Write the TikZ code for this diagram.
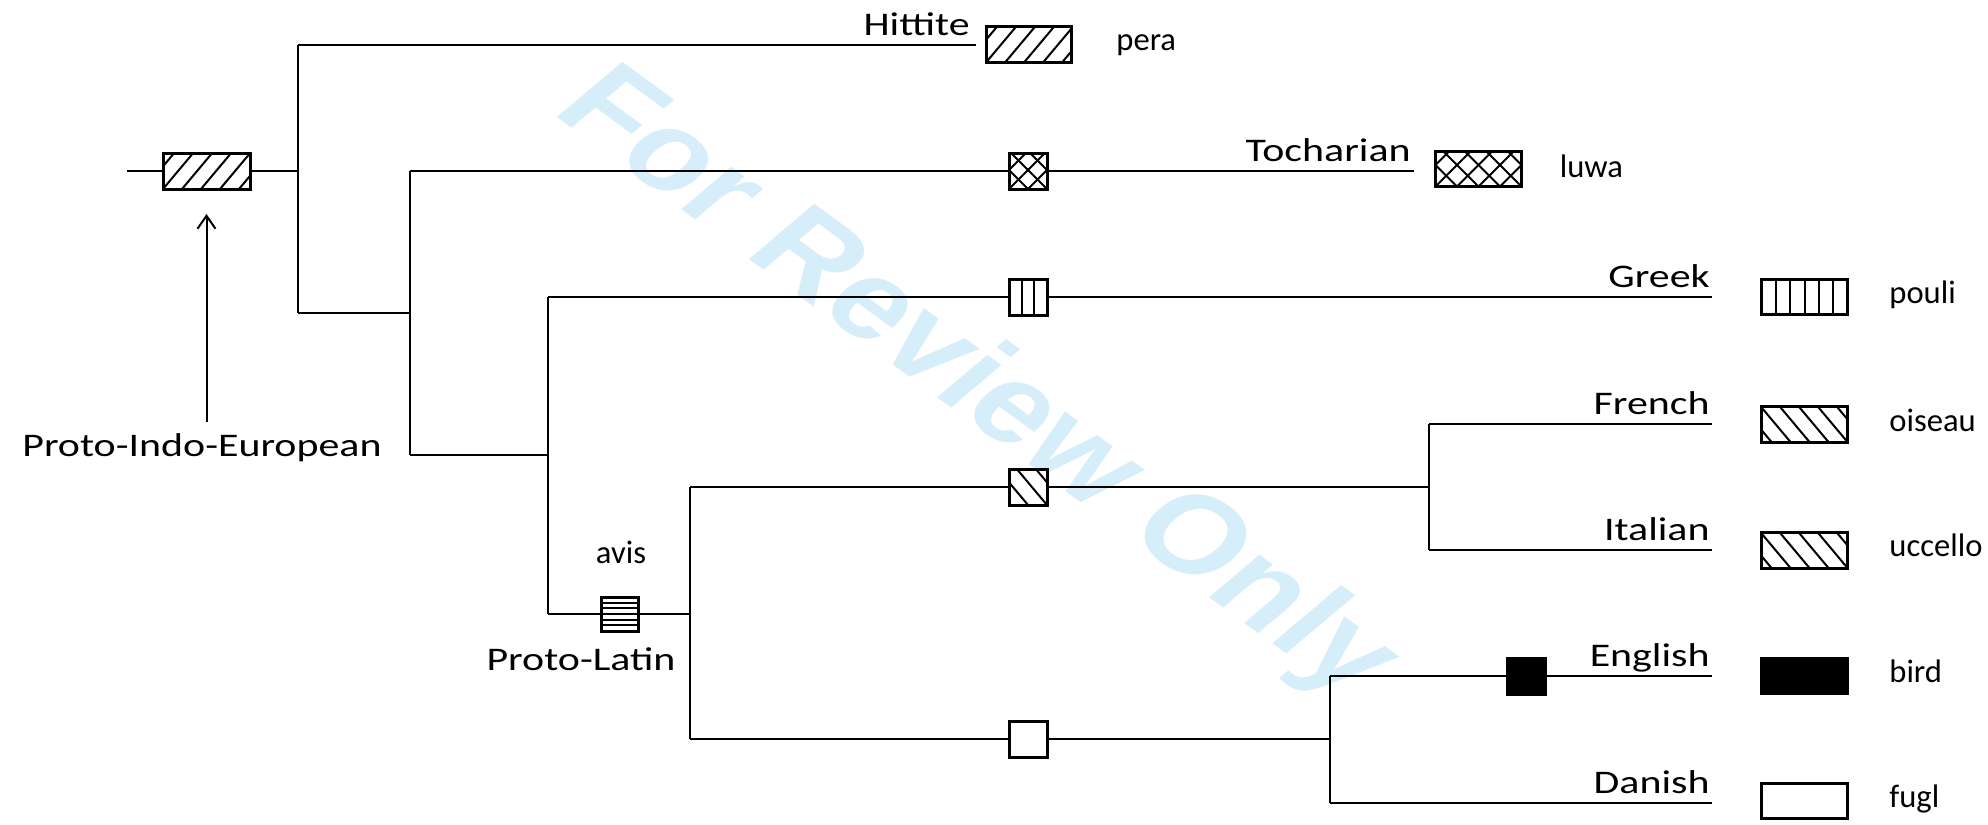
\documentclass[tikz,border=0pt]{standalone}
\usepackage{fontspec}
\usetikzlibrary{arrows.meta}
\newfontfamily\labfont[FakeStretch=1.27]{Carlito}
\newfontfamily\wordfont{Carlito}
\newfontfamily\wmfont{Liberation Sans}
\definecolor{wmblue}{RGB}{214,238,250}
\tikzset{
  tree/.style={line width=1pt},
  hl/.style={line width=1pt},
  box/.style={draw, line width=1.5pt, fill=white, inner sep=0pt, outer sep=0pt},
  lab/.style={font=\labfont\fontsize{16.5}{18}\selectfont, inner sep=0pt},
  word/.style={font=\wordfont\fontsize{16.3}{18}\selectfont, inner sep=0pt},
  hatchNE/.style={path picture={\foreach \k in {-4,...,12}{\draw[hl] ([xshift={(\k)*(#1)}]path picture bounding box.south west) -- ++(50:40pt);}}},
  hatchNW/.style={path picture={\foreach \k in {-4,...,12}{\draw[hl] ([xshift={(\k)*(-#1)}]path picture bounding box.south east) -- ++(130:40pt);}}},
  crossh/.style={path picture={\foreach \k in {-4,...,12}{\draw[hl] ([xshift={(\k)*(#1)}]path picture bounding box.south west) -- ++(45:40pt);
      \draw[hl] ([xshift={(\k)*(-#1)}]path picture bounding box.south east) -- ++(135:40pt);}}},
  vlines/.style 2 args={path picture={\foreach \k in {1,...,#1}{\draw[hl] ([xshift={\k*(#2)}]path picture bounding box.south west) -- ([xshift={\k*(#2)}]path picture bounding box.north west);}}},
  hlines/.style 2 args={path picture={\foreach \k in {1,...,#1}{\draw[line width=0.9pt] ([yshift={\k*(#2)}]path picture bounding box.south west) -- ([yshift={\k*(#2)}]path picture bounding box.south east);}}},
  small/.style={box, minimum width=19pt, minimum height=18pt},
  big/.style={box, minimum width=43pt, minimum height=17.5pt},
}
\begin{document}
\begin{tikzpicture}[x=0.5pt, y=-0.5pt]
\useasboundingbox (0,0) rectangle (1988,825);
% watermark
\begin{scope}[xscale=1.27]
\node[transform shape, rotate=-43, text=wmblue, inner sep=0pt,
      font=\wmfont\bfseries\fontsize{55}{60}\selectfont] (wm) at (767.7,386) {For Review Only};
\end{scope}

% root
\coordinate (root0) at (127,171);
\node[box, minimum width=43.5pt, minimum height=18pt, hatchNE=9.5pt] (piebox) at (206.5,171) {};
\coordinate (j1) at (298,171);
\coordinate (j1t) at (298,44.5);
\coordinate (j1b) at (298,313);
\draw[tree] (root0) -- (piebox.west);
\draw[tree] (piebox.east) -- (j1);
\draw[tree] (j1t) -- (j1b);

% Hittite
\coordinate (hitend) at (976,44.5);
\draw[tree] (j1t) -- (hitend);
\node[big, minimum width=42.5pt, minimum height=18pt, hatchNE=9.5pt] (hitbox) at (1028.5,44.5) {};
\node[lab, anchor=base east] (hitlab) at (970,35) {Hittite};
\node[word, anchor=base west] (pera) at (1116,50.5) {pera};

% level 2
\coordinate (j2) at (409.5,313);
\coordinate (j2t) at (409.5,171);
\coordinate (j2b) at (409.5,455);
\draw[tree] (j1b) -- (j2);
\draw[tree] (j2t) -- (j2b);

% Tocharian
\node[small, crossh=9.5pt] (tochsmall) at (1028,171) {};
\coordinate (tochend) at (1414,171);
\draw[tree] (j2t) -- (tochsmall.west);
\draw[tree] (tochsmall.east) -- (tochend);
\node[lab, anchor=base east] (tochlab) at (1411,161.5) {Tocharian};
\node[big, crossh=10.75pt] (tochbig) at (1478.5,169) {};
\node[word, anchor=base west] (luwa) at (1559.5,177) {luwa};

% level 3
\coordinate (j3) at (548,455);
\coordinate (j3t) at (548,297);
\coordinate (j3b) at (548,614);
\draw[tree] (j2b) -- (j3);
\draw[tree] (j3t) -- (j3b);

% Greek
\node[small, vlines={2}{6.33pt}] (greeksmall) at (1028,297) {};
\coordinate (greekend) at (1712,297);
\draw[tree] (j3t) -- (greeksmall.west);
\draw[tree] (greeksmall.east) -- (greekend);
\node[lab, anchor=base east] (greeklab) at (1710,287.5) {Greek};
\node[big, vlines={5}{7.17pt}] (greekbig) at (1804.5,297) {};
\node[word, anchor=base west] (pouli) at (1889,303) {pouli};

% Proto-Latin
\node[box, minimum width=18.5pt, minimum height=17pt, hlines={5}{2.83pt}] (platbox) at (619.5,614) {};
\coordinate (j4) at (690,614);
\coordinate (j4t) at (690,487);
\coordinate (j4b) at (690,739);
\draw[tree] (j3b) -- (platbox.west);
\draw[tree] (platbox.east) -- (j4);
\draw[tree] (j4t) -- (j4b);
\node[word, anchor=base] (avis) at (621,563) {avis};
\node[lab, anchor=base] (platlab) at (581,670) {Proto-Latin};

% Romance
\node[small, hatchNW=9.5pt] (romsmall) at (1028,487) {};
\coordinate (j5) at (1429,487);
\coordinate (j5t) at (1429,423.5);
\coordinate (j5b) at (1429,550);
\draw[tree] (j4t) -- (romsmall.west);
\draw[tree] (romsmall.east) -- (j5);
\draw[tree] (j5t) -- (j5b);
\coordinate (frend) at (1712,423.5);
\coordinate (itend) at (1712,550);
\draw[tree] (j5t) -- (frend);
\draw[tree] (j5b) -- (itend);
\node[lab, anchor=base east] (frlab) at (1710,414) {French};
\node[lab, anchor=base east] (itlab) at (1710,540.5) {Italian};
\node[big, minimum height=18pt, hatchNW=9.5pt] (frbig) at (1804.5,424) {};
\node[big, minimum height=18pt, hatchNW=9.5pt] (itbig) at (1804.5,550) {};
\node[word, anchor=base west] (oiseau) at (1889,431) {oiseau};
\node[word, anchor=base west] (uccello) at (1889,556.5) {uccello};

% Germanic
\node[small] (gersmall) at (1028,739) {};
\coordinate (j6) at (1330,739);
\coordinate (j6t) at (1330,676);
\coordinate (j6b) at (1330,802.5);
\draw[tree] (j4b) -- (gersmall.west);
\draw[tree] (gersmall.east) -- (j6);
\draw[tree] (j6t) -- (j6b);
\node[small, fill=black] (engsmall) at (1526.5,676) {};
\coordinate (enend) at (1712,676);
\coordinate (daend) at (1712,802.5);
\draw[tree] (j6t) -- (engsmall.west);
\draw[tree] (engsmall.east) -- (enend);
\draw[tree] (j6b) -- (daend);
\node[lab, anchor=base east] (enlab) at (1710,666.5) {English};
\node[lab, anchor=base east] (dalab) at (1710,793) {Danish};
\node[big, fill=black] (enbig) at (1804.5,676) {};
\node[big] (dabig) at (1804.5,801) {};
\node[word, anchor=base west] (bird) at (1889,682) {bird};
\node[word, anchor=base west] (fugl) at (1889,807) {fugl};

% Proto-Indo-European label and arrow
\node[lab, anchor=base] (pielab) at (202,456) {Proto-Indo-European};
\coordinate (arrstart) at (206.5,422);
\draw[tree, -{Straight Barb[length=6.5pt, width=9pt]}, shorten >=12.5pt] (arrstart) -- (piebox.south -| arrstart);
\end{tikzpicture}
\end{document}
